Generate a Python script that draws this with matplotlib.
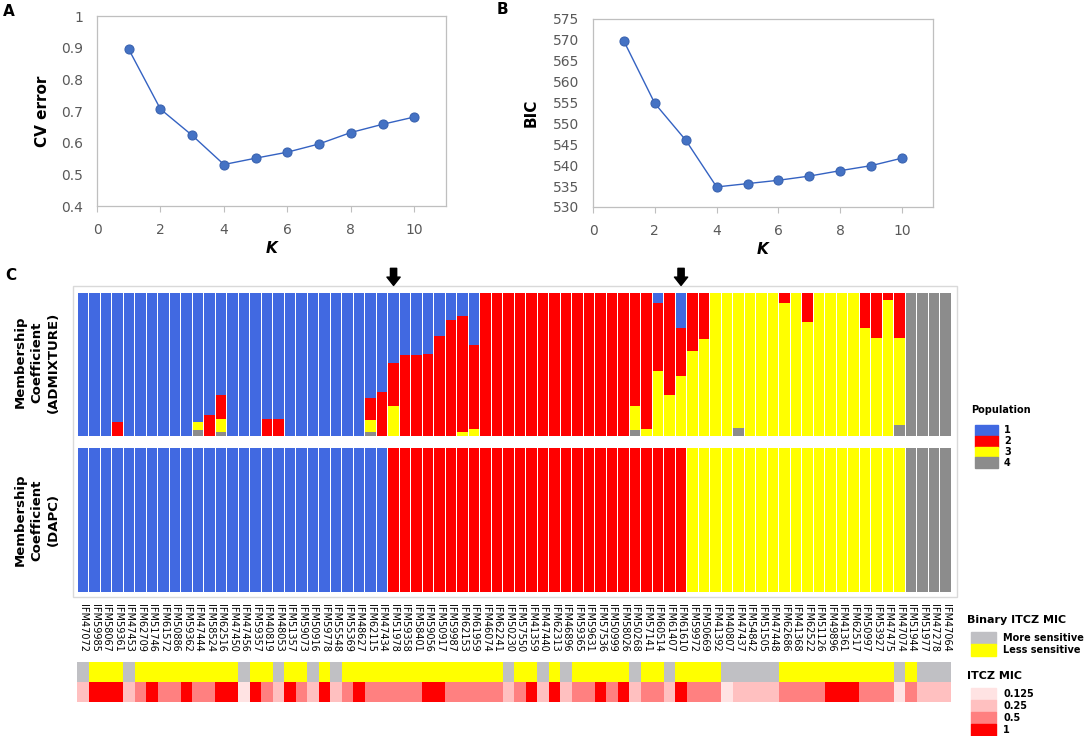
import numpy as np
import matplotlib
matplotlib.use("Agg")
import matplotlib.pyplot as plt
from matplotlib.patches import Rectangle

# Panel A / B data
k_values = [1, 2, 3, 4, 5, 6, 7, 8, 9, 10]
cv_error = [0.895, 0.706, 0.623, 0.531, 0.551, 0.570, 0.596, 0.632, 0.658, 0.681]
bic = [569.7, 554.8, 546.0, 534.8, 535.6, 536.4, 537.4, 538.7, 539.9, 541.7]

# Panel C data
isolates = [
    "IFM47072", "IFM59985", "IFM58067", "IFM59361", "IFM47453", "IFM62709", "IFM51746", "IFM61572",
    "IFM50886", "IFM59362", "IFM47444", "IFM58524", "IFM62516", "IFM47450", "IFM47456", "IFM59357",
    "IFM40819", "IFM48053", "IFM51357", "IFM59073", "IFM50916", "IFM59778", "IFM55548", "IFM55369",
    "IFM48627", "IFM62115", "IFM47434", "IFM51978", "IFM59358", "IFM58401", "IFM59056", "IFM50917",
    "IFM59987", "IFM62153", "IFM61959", "IFM46074", "IFM62241", "IFM50230", "IFM57550", "IFM41359",
    "IFM47440", "IFM62313", "IFM46896", "IFM59365", "IFM59631", "IFM57536", "IFM50999", "IFM58026",
    "IFM50268", "IFM57141", "IFM60514", "IFM61407", "IFM61610", "IFM59972", "IFM50669", "IFM41392",
    "IFM40807", "IFM47437", "IFM54842", "IFM51505", "IFM47448", "IFM62686", "IFM41368", "IFM62522",
    "IFM51126", "IFM49896", "IFM41361", "IFM62517", "IFM50997", "IFM53927", "IFM47475", "IFM47074",
    "IFM51944", "IFM51977", "IFM47278", "IFM47064",
]

# ADMIXTURE membership coefficients (pop 1..4)
adm_pop1 = [1, 1, 1, 0.90, 1, 1, 1, 1, 1, 1,
            0.90, 0.85, 0.71, 1, 1, 1, 0.88, 0.88, 1, 1,
            1, 1, 1, 1, 1, 0.735, 0.69, 0.49, 0.435, 0.435,
            0.425, 0.30, 0.185, 0.16, 0.36, 0, 0, 0, 0, 0,
            0, 0, 0, 0, 0, 0, 0, 0, 0, 0,
            0.07, 0, 0.24, 0, 0, 0, 0, 0, 0, 0,
            0, 0, 0, 0, 0, 0, 0, 0, 0, 0,
            0, 0, 0, 0, 0, 0]
adm_pop2 = [0, 0, 0, 0.10, 0, 0, 0, 0, 0, 0,
            0, 0.15, 0.17, 0, 0, 0, 0.12, 0.12, 0, 0,
            0, 0, 0, 0, 0, 0.15, 0.31, 0.30, 0.565, 0.565,
            0.575, 0.70, 0.815, 0.815, 0.59, 1, 1, 1, 1, 1,
            1, 1, 1, 1, 1, 1, 1, 1, 0.79, 0.95,
            0.475, 0.715, 0.34, 0.405, 0.32, 0, 0, 0, 0, 0,
            0, 0.07, 0, 0.20, 0, 0, 0, 0, 0.245, 0.31,
            0.05, 0.31, 0, 0, 0, 0]
adm_pop3 = [0, 0, 0, 0, 0, 0, 0, 0, 0, 0,
            0.06, 0, 0.09, 0, 0, 0, 0, 0, 0, 0,
            0, 0, 0, 0, 0, 0.085, 0, 0.21, 0, 0,
            0, 0, 0, 0.025, 0.05, 0, 0, 0, 0, 0,
            0, 0, 0, 0, 0, 0, 0, 0, 0.17, 0.05,
            0.455, 0.285, 0.42, 0.595, 0.68, 1, 1, 0.945, 1, 1,
            1, 0.93, 1, 0.80, 1, 1, 1, 1, 0.755, 0.69,
            0.95, 0.615, 0, 0, 0, 0]
adm_pop4 = [0, 0, 0, 0, 0, 0, 0, 0, 0, 0,
            0.04, 0, 0.03, 0, 0, 0, 0, 0, 0, 0,
            0, 0, 0, 0, 0, 0.03, 0, 0, 0, 0,
            0, 0, 0, 0, 0, 0, 0, 0, 0, 0,
            0, 0, 0, 0, 0, 0, 0, 0, 0.04, 0,
            0, 0, 0, 0, 0, 0, 0, 0.055, 0, 0,
            0, 0, 0, 0, 0, 0, 0, 0, 0, 0,
            0, 0.075, 1, 1, 1, 1]

# DAPC assignment (population number)
dapc_pop = [1, 1, 1, 1, 1, 1, 1, 1, 1, 1,
            1, 1, 1, 1, 1, 1, 1, 1, 1, 1,
            1, 1, 1, 1, 1, 1, 1, 2, 2, 2,
            2, 2, 2, 2, 2, 2, 2, 2, 2, 2,
            2, 2, 2, 2, 2, 2, 2, 2, 2, 2,
            2, 2, 2, 3, 3, 3, 3, 3, 3, 3,
            3, 3, 3, 3, 3, 3, 3, 3, 3, 3,
            3, 3, 4, 4, 4, 4]

# binary MIC: 0 = more sensitive, 1 = less sensitive
binary_mic = [0, 1, 1, 1, 0, 1, 1, 1, 1, 1,
              1, 1, 1, 1, 0, 1, 1, 0, 1, 1,
              0, 1, 0, 1, 1, 1, 1, 1, 1, 1,
              1, 1, 1, 1, 1, 1, 1, 0, 1, 1,
              0, 1, 0, 1, 1, 1, 1, 1, 0, 1,
              1, 0, 1, 1, 1, 1, 0, 0, 0, 0,
              0, 1, 1, 1, 1, 1, 1, 1, 1, 1,
              1, 0, 1, 0, 0, 0]
itcz_mic = [0.25, 1, 1, 1, 0.25, 0.5, 1, 0.5, 0.5, 1,
            0.5, 0.5, 1, 1, 0.125, 1, 0.5, 0.25, 1, 0.5,
            0.25, 1, 0.25, 0.5, 1, 0.5, 0.5, 0.5, 0.5, 0.5,
            1, 1, 0.5, 0.5, 0.5, 0.5, 0.5, 0.25, 0.5, 1,
            0.25, 1, 0.25, 0.5, 0.5, 1, 0.5, 1, 0.25, 0.5,
            0.5, 0.25, 1, 0.5, 0.5, 0.5, 0.125, 0.25, 0.25, 0.25,
            0.25, 0.5, 0.5, 0.5, 0.5, 1, 1, 1, 0.5, 0.5,
            0.5, 0.125, 0.5, 0.25, 0.25, 0.25]

arrow_samples = [27, 52]

pop_colors = {1: "#4169E1", 2: "#FF0000", 3: "#FFFF00", 4: "#8C8C8C"}
binary_colors = {0: "#C0C0C4", 1: "#FFFF00"}
binary_names = {0: "More sensitive", 1: "Less sensitive"}
mic_colors = {0.125: "#FFE3E3", 0.25: "#FFC0C0", 0.5: "#FF8080", 1: "#FF0000"}

W, H = 1084, 736
fig = plt.figure(figsize=(W / 100, H / 100), dpi=100)


def px_axes(l, t, w, h, **kw):
    return fig.add_axes([l / W, 1 - (t + h) / H, w / W, h / H], **kw)


line_col = "#3462C2"
marker_col = "#4472C4"
grey_txt = "#595959"


def style_line_axes(ax):
    for s in ax.spines.values():
        s.set_color("#BFBFBF")
        s.set_linewidth(0.9)
    ax.tick_params(axis="x", length=4, color="#BFBFBF", pad=8, labelsize=10, labelcolor=grey_txt)
    ax.tick_params(axis="y", length=0, pad=10, labelsize=10, labelcolor=grey_txt)
    ax.set_xlim(0, 11)
    ax.set_xticks([0, 2, 4, 6, 8, 10])
    ax.set_xlabel("K", fontsize=11, fontweight="bold", fontstyle="italic", labelpad=3)


# ---- Panel A ----
axA = px_axes(97, 16, 349, 190)
axA.plot(k_values, cv_error, "-", color=line_col, lw=1.0)
axA.plot(k_values, cv_error, "o", color=marker_col, ms=6.5, mec="#3A63B0", mew=0.8)
style_line_axes(axA)
axA.set_ylim(0.4, 1.0)
axA.set_yticks([0.4, 0.5, 0.6, 0.7, 0.8, 0.9, 1.0])
axA.set_yticklabels(["0.4", "0.5", "0.6", "0.7", "0.8", "0.9", "1"])
axA.set_ylabel("CV error", fontsize=11, fontweight="bold", labelpad=8)

# ---- Panel B ----
axB = px_axes(593, 19, 340, 188)
axB.plot(k_values, bic, "-", color=line_col, lw=1.0)
axB.plot(k_values, bic, "o", color=marker_col, ms=6.5, mec="#3A63B0", mew=0.8)
style_line_axes(axB)
axB.set_ylim(530, 575)
axB.set_yticks(np.arange(530, 576, 5))
axB.set_ylabel("BIC", fontsize=11, fontweight="bold", labelpad=10)

# ---- Panel C ----
x = np.arange(len(isolates))
left, width = 77.3, 874

axAdm = px_axes(left, 293.3, width, 142.7)
b4 = np.array(adm_pop4)
b3 = b4 + np.array(adm_pop3)
b2 = b3 + np.array(adm_pop2)
axAdm.bar(x, adm_pop4, width=0.88, color=pop_colors[4])
axAdm.bar(x, adm_pop3, bottom=b4, width=0.88, color=pop_colors[3])
axAdm.bar(x, adm_pop2, bottom=b3, width=0.88, color=pop_colors[2])
axAdm.bar(x, adm_pop1, bottom=b2, width=0.88, color=pop_colors[1])
axAdm.set_xlim(-0.5, len(isolates) - 0.5)
axAdm.set_ylim(0, 1)
axAdm.axis("off")
for i in arrow_samples:
    axAdm.annotate("", xy=(i, 1.055), xytext=(i, 1.175), annotation_clip=False,
                   arrowprops=dict(arrowstyle="simple,head_width=0.95,head_length=0.6,tail_width=0.45",
                                   color="black", shrinkA=0, shrinkB=0))

axDapc = px_axes(left, 448.3, width, 143.4)
axDapc.bar(x, [1] * len(x), width=0.88, color=[pop_colors[p] for p in dapc_pop])
axDapc.set_xlim(-0.5, len(isolates) - 0.5)
axDapc.set_ylim(0, 1)
axDapc.set_xticks(x)
axDapc.set_xticklabels(isolates, rotation=270, fontsize=7)
axDapc.tick_params(axis="x", length=0, pad=9)
axDapc.set_yticks([])
for s in axDapc.spines.values():
    s.set_visible(False)

axHeat = px_axes(left, 662, width, 40)
axHeat.bar(x, 1, bottom=1, width=1.0, color=[binary_colors[b] for b in binary_mic])
axHeat.bar(x, 1, bottom=0, width=1.0, color=[mic_colors[m] for m in itcz_mic])
axHeat.set_xlim(-0.5, len(isolates) - 0.5)
axHeat.set_ylim(0, 2)
axHeat.axis("off")

# ---- overlay: frame, letters, labels, legends ----
ov = fig.add_axes([0, 0, 1, 1], zorder=-1)
ov.set_xlim(0, W)
ov.set_ylim(H, 0)
ov.axis("off")
ov.add_patch(Rectangle((73, 286), 884, 311, fill=False, ec="#D9D9D9", lw=1))

for letter, (lx, ly) in {"A": (9, 12), "B": (502, 10), "C": (11, 275)}.items():
    ov.text(lx, ly, letter, fontsize=11, fontweight="bold", ha="center", va="center")

ov.text(37, 362, "Membership\nCoefficient\n(ADMIXTURE)", rotation=90, fontsize=9.5,
        fontweight="bold", ha="center", va="center", linespacing=1.35)
ov.text(37, 520, "Membership\nCoefficient\n(DAPC)", rotation=90, fontsize=9.5,
        fontweight="bold", ha="center", va="center", linespacing=1.35)

# population legend
ov.text(971, 410, "Population", fontsize=7, fontweight="bold", va="center")
for j, p in enumerate([1, 2, 3, 4]):
    y0 = 425 + j * 10.8
    ov.add_patch(Rectangle((975, y0), 23, 10.8, color=pop_colors[p]))
    ov.text(1004, y0 + 5.4, str(p), fontsize=7, fontweight="bold", va="center")

# binary MIC legend
ov.text(967, 620, "Binary ITCZ MIC", fontsize=8, fontweight="bold", va="center")
for j, b in enumerate([0, 1]):
    y0 = 632 + j * 12
    ov.add_patch(Rectangle((971, y0), 25, 12, color=binary_colors[b]))
    ov.text(1003, y0 + 6, binary_names[b], fontsize=7, fontweight="bold", va="center")

# MIC legend
ov.text(967, 676, "ITCZ MIC", fontsize=8, fontweight="bold", va="center")
for j, m in enumerate([0.125, 0.25, 0.5, 1]):
    y0 = 688 + j * 12
    ov.add_patch(Rectangle((971, y0), 25, 12, color=mic_colors[m]))
    ov.text(1003, y0 + 6, str(m), fontsize=7, fontweight="bold", va="center")

fig.savefig("out.png", dpi=100)
